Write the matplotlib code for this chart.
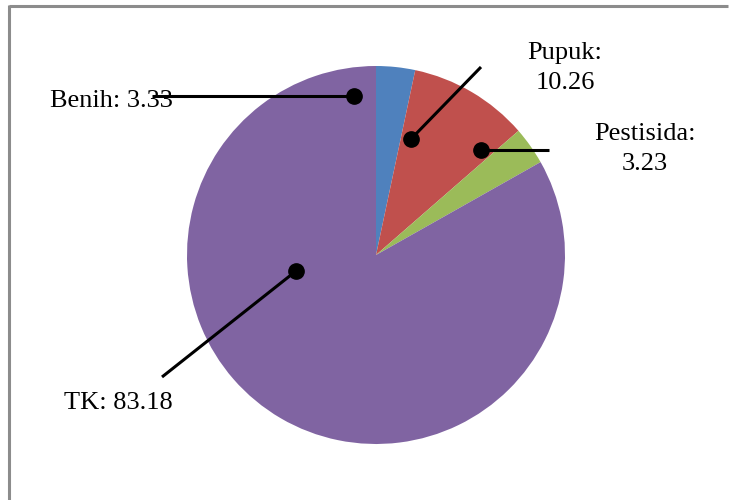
import matplotlib
matplotlib.use("Agg")
import matplotlib.pyplot as plt
from matplotlib.lines import Line2D

# Cost shares (%)
categories = ["Benih", "Pupuk", "Pestisida", "TK"]
values = [3.33, 10.26, 3.23, 83.18]
colors = ["#4F81BD", "#C0504D", "#9BBB59", "#8064A2"]
value_labels = ["3.33", "10.26", "3.23", "83.18"]

W, H = 729, 500
fig = plt.figure(figsize=(W / 100, H / 100), dpi=100)
ax = fig.add_axes([0, 0, 1, 1])


def Y(y):
    # image-style y (down) to axes y (up)
    return H - y


cx, cy, r = 376, 255, 189
ax.pie(values, colors=colors, startangle=90, counterclock=False,
       center=(cx, Y(cy)), radius=r, frame=True,
       wedgeprops=dict(linewidth=0))
ax.set_xlim(0, W)
ax.set_ylim(0, H)
ax.set_aspect("equal")
ax.axis("off")

font = dict(family="Liberation Serif", fontsize=19, color="black")

# leader lines: (dot point, line end)
leaders = {
    "Benih": ((354, 96), (152, 96)),
    "Pupuk": ((411, 139), (481, 67)),
    "Pestisida": ((481, 150), (549, 150)),
    "TK": ((296, 271), (162, 377)),
}
for name in categories:
    (x0, y0), (x1, y1) = leaders[name]
    ax.plot([x0, x1], [Y(y0), Y(y1)], color="black", lw=2.2,
            solid_capstyle="butt", zorder=5)
    ax.plot([x0], [Y(y0)], "o", color="black", ms=11, zorder=6)

# data labels
ax.text(50, Y(101), f"{categories[0]}: {value_labels[0]}", ha="left",
        va="center", zorder=4, **font)
ax.text(565, Y(68), f"{categories[1]}:\n{value_labels[1]}", ha="center",
        va="center", linespacing=1.42, zorder=4, **font)
ax.text(645, Y(149), f"{categories[2]}:\n{value_labels[2]}", ha="center",
        va="center", linespacing=1.42, zorder=4, **font)
ax.text(64, Y(403), f"{categories[3]}: {value_labels[3]}", ha="left",
        va="center", zorder=4, **font)

# chart area frame (top and left edges visible)
frame_kw = dict(color="#8c8c8c", lw=2.2, solid_capstyle="butt")
fig.add_artist(Line2D([9 / W, 728 / W], [1 - 6 / H, 1 - 6 / H],
                      transform=fig.transFigure, **frame_kw))
fig.add_artist(Line2D([9 / W, 9 / W], [1 - 5 / H, 0],
                      transform=fig.transFigure, **frame_kw))

fig.savefig("out.png", dpi=100, facecolor="white")
